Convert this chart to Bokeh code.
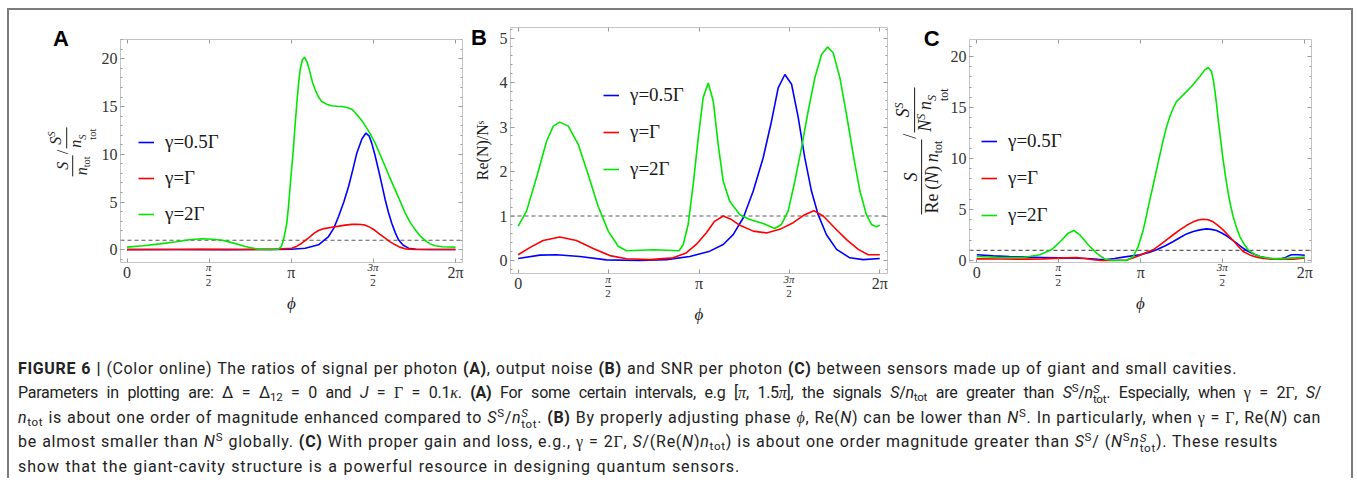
import numpy as np
from bokeh.plotting import figure
from bokeh.models import (Legend, LegendItem, Span, FixedTicker, SingleIntervalTicker,
                          LinearAxis, Div, Range1d)
from bokeh.layouts import row, column
from bokeh.embed import file_html
from bokeh.resources import INLINE

PI = np.pi

# ---------------- data (phi given in multiples of pi) ----------------
x_ticks = [0, 1, 2]
x_tick_text = ["0", "π", "2π"]
x_half_ticks = [0.5, 1.5]
frac_num = ["π", "3π"]
frac_den = ["2", "2"]
series_labels = ["γ=0.5Γ", "γ=Γ", "γ=2Γ"]
series_colors = ["#0000ff", "#ff0000", "#00e600"]
ref_level = 1.0

# Panel A : S/n_tot / (S^S/n^S_tot)
a_blue_x = [0, 0.3, 0.6, 0.9, 1.0, 1.085, 1.166, 1.227, 1.26, 1.288, 1.32, 1.349, 1.375, 1.399,
            1.43, 1.454, 1.475, 1.49, 1.51, 1.531, 1.552, 1.572, 1.592, 1.612, 1.633, 1.653,
            1.68, 1.714, 1.76, 1.85, 2.0]
a_blue_y = [0.03, 0.03, 0.02, 0.03, 0.06, 0.17, 0.52, 1.39, 2.3, 3.49, 5.0, 6.63, 8.4, 10.12,
            11.6, 12.21, 11.9, 11.17, 9.9, 8.38, 6.8, 5.24, 3.9, 2.79, 1.8, 1.05,
            0.5, 0.17, 0.06, 0.03, 0.03]
a_red_x = [0, 0.3, 0.45, 0.7, 0.9, 1.003, 1.035, 1.064, 1.09, 1.115, 1.14, 1.166, 1.2, 1.247,
           1.29, 1.328, 1.37, 1.399, 1.425, 1.45, 1.48, 1.511, 1.54, 1.572, 1.6, 1.633, 1.66,
           1.694, 1.75, 2.0]
a_red_y = [0.02, 0.03, 0.04, 0.03, 0.06, 0.17, 0.38, 0.69, 1.05, 1.39, 1.75, 2.02, 2.22, 2.37,
           2.48, 2.58, 2.66, 2.68, 2.65, 2.58, 2.35, 2.02, 1.62, 1.22, 0.85, 0.52, 0.28,
           0.1, 0.04, 0.03]
a_green_x = [0, 0.1, 0.2, 0.3, 0.38, 0.455, 0.52, 0.58, 0.65, 0.72, 0.8, 0.86, 0.92, 0.94,
             0.955, 0.973, 0.983, 0.993, 1.004, 1.014, 1.024, 1.034, 1.044, 1.054, 1.068,
             1.081, 1.098, 1.115, 1.13, 1.146, 1.166, 1.186, 1.215, 1.247, 1.28, 1.308, 1.34,
             1.369, 1.39, 1.409, 1.435, 1.46, 1.485, 1.511, 1.54, 1.572, 1.6, 1.633, 1.665,
             1.694, 1.725, 1.755, 1.785, 1.816, 1.846, 1.876, 1.92, 2.0]
a_green_y = [0.28, 0.42, 0.62, 0.85, 1.05, 1.15, 1.1, 1.0, 0.7, 0.35, 0.05, 0.0, 0.05, 0.35,
             1.2, 2.8, 4.5, 6.6, 8.8, 10.8, 13.2, 15.35, 17.3, 18.85, 19.9,
             20.17, 19.6, 18.5, 17.5, 16.75, 16.0, 15.53, 15.25, 15.08, 15.03, 15.0, 14.9,
             14.72, 14.35, 13.96, 13.4, 12.74, 12.0, 11.17, 10.0, 8.72, 7.55, 6.28, 5.0,
             3.83, 2.85, 2.09, 1.45, 0.97, 0.62, 0.42, 0.32, 0.28]

# Panel B : Re(N)/N^S
b_blue_x = [0, 0.12, 0.212, 0.341, 0.488, 0.673, 0.82, 0.949, 1.06, 1.134, 1.189, 1.245, 1.3,
            1.355, 1.401, 1.438, 1.475, 1.512, 1.549, 1.585, 1.622, 1.659, 1.705, 1.761,
            1.834, 1.908, 2.0]
b_blue_y = [0.045, 0.12, 0.13, 0.09, 0.015, 0.0, 0.02, 0.09, 0.21, 0.36, 0.58, 0.96, 1.56,
            2.31, 3.13, 3.88, 4.18, 3.96, 3.21, 2.31, 1.56, 1.03, 0.58, 0.25,
            0.06, 0.02, 0.045]
b_red_x = [0, 0.064, 0.138, 0.23, 0.322, 0.415, 0.507, 0.599, 0.728, 0.857, 0.929, 0.985, 1.04,
           1.086, 1.134, 1.18, 1.226, 1.3, 1.373, 1.447, 1.521, 1.585, 1.635, 1.687, 1.751,
           1.816, 1.881, 1.936, 2.0]
b_red_y = [0.13, 0.29, 0.45, 0.53, 0.45, 0.27, 0.11, 0.04, 0.02, 0.06, 0.17, 0.36, 0.62,
           0.88, 1.0, 0.92, 0.79, 0.66, 0.62, 0.7, 0.85, 1.03, 1.12, 1.0, 0.73,
           0.47, 0.25, 0.13, 0.13]
b_green_x = [0, 0.046, 0.101, 0.157, 0.194, 0.23, 0.277, 0.332, 0.387, 0.442, 0.498, 0.553,
             0.599, 0.75, 0.89, 0.913, 0.94, 0.968, 0.996, 1.023, 1.051, 1.079, 1.106, 1.134,
             1.17, 1.226, 1.281, 1.355, 1.419, 1.456, 1.493, 1.53, 1.567, 1.604, 1.641,
             1.678, 1.711, 1.742, 1.779, 1.816, 1.853, 1.89, 1.926, 1.954, 1.982, 2.0]
b_green_y = [0.77, 1.11, 1.86, 2.68, 3.02, 3.11, 3.02, 2.61, 1.93, 1.22, 0.66, 0.32,
             0.22, 0.24, 0.22, 0.36, 0.81, 1.71, 2.76, 3.66, 3.99, 3.58, 2.61, 1.78,
             1.33, 1.03, 0.92, 0.83, 0.72, 0.81, 1.11, 1.78, 2.53, 3.36, 4.11,
             4.63, 4.8, 4.67, 4.11, 3.28, 2.38, 1.56, 1.03, 0.81, 0.76, 0.79]

# Panel C : S/(Re(N) n_tot) / (S^S/(N^S n^S_tot))
c_blue_x = [0, 0.1, 0.2, 0.303, 0.4, 0.508, 0.6, 0.669, 0.74, 0.79, 0.84, 0.893, 0.994, 1.05,
            1.096, 1.15, 1.198, 1.24, 1.279, 1.32, 1.36, 1.401, 1.43, 1.462, 1.49, 1.523,
            1.555, 1.584, 1.615, 1.645, 1.685, 1.726, 1.77, 1.807, 1.85, 1.878, 1.9, 1.919,
            1.96, 2.0]
c_blue_y = [0.56, 0.45, 0.38, 0.33, 0.3, 0.26, 0.22, 0.2, 0.12, 0.1, 0.2, 0.33, 0.56, 0.78,
            1.05, 1.45, 1.86, 2.25, 2.61, 2.85, 3.0, 3.1, 3.05, 2.94, 2.72, 2.42,
            2.05, 1.7, 1.32, 0.98, 0.65, 0.39, 0.24, 0.16, 0.18, 0.26, 0.45, 0.56,
            0.56, 0.52]
c_red_x = [0, 0.15, 0.303, 0.4, 0.508, 0.61, 0.66, 0.71, 0.76, 0.811, 0.913, 0.96, 1.0, 1.03,
           1.075, 1.115, 1.157, 1.2, 1.238, 1.28, 1.32, 1.35, 1.381, 1.41, 1.441, 1.47, 1.502,
           1.533, 1.563, 1.594, 1.624, 1.665, 1.706, 1.75, 1.807, 1.929, 2.0]
c_red_y = [0.16, 0.14, 0.13, 0.16, 0.23, 0.29, 0.2, 0.07, 0.0, 0.0, 0.05, 0.3, 0.55, 0.75,
           1.05, 1.5, 2.03, 2.55, 3.0, 3.45, 3.79, 3.97, 4.05, 4.0, 3.79, 3.45, 3.0,
           2.48, 1.96, 1.4, 0.88, 0.55, 0.33, 0.2, 0.13, 0.13, 0.26]
c_green_x = [0, 0.14, 0.283, 0.384, 0.455, 0.516, 0.557, 0.592, 0.628, 0.679, 0.73, 0.78,
             0.832, 0.913, 0.954, 0.984, 1.015, 1.035, 1.055, 1.076, 1.096, 1.117, 1.137,
             1.157, 1.177, 1.198, 1.218, 1.259, 1.309, 1.36, 1.39, 1.411, 1.431, 1.441,
             1.451, 1.462, 1.472, 1.487, 1.502, 1.518, 1.533, 1.548, 1.563, 1.584, 1.604,
             1.63, 1.655, 1.69, 1.726, 1.78, 1.827, 1.87, 1.909, 2.0]
c_green_y = [0.39, 0.29, 0.29, 0.56, 1.05, 1.96, 2.68, 2.94, 2.52, 1.54, 0.72, 0.13,
             0.0, 0.0, 0.39, 1.37, 3.0, 4.45, 5.95, 7.4, 8.89, 10.4, 11.83,
             13.1, 14.12, 14.95, 15.59, 16.24, 17.06, 18.04, 18.69, 18.92, 18.53, 17.8,
             16.73, 15.3, 13.79, 11.8, 9.87, 8.1, 6.6, 5.35, 4.31, 3.2, 2.35,
             1.6, 1.05, 0.65, 0.39, 0.22, 0.16, 0.18, 0.23, 0.33]

# ---------------- styling ----------------
SERIF = "Liberation Serif"
SANS = "Liberation Sans"
FRAME = "#c4c4c4"
TICKC = "#9a9a9a"
TICK = "#333333"
LABC = "#1a1a1a"
FIG_H = 322
ORIGIN = (9, 10)          # page position of the figures' top-left corner


class Geo:
    """page-pixel <-> data mapping for one panel"""
    def __init__(self, fl, fr, ft, fb, x0px, x2pipx, y0px, ypx_per_unit):
        self.fl, self.fr, self.ft, self.fb = fl, fr, ft, fb
        self.x0px, self.sx = x0px, (x2pipx - x0px) / (2 * PI)
        self.y0px, self.sy = y0px, ypx_per_unit
        self.xr = (self.dx(fl), self.dx(fr))
        self.yr = (self.dy(fb), self.dy(ft))

    def dx(self, px):
        return (px - self.x0px) / self.sx

    def dy(self, py):
        return (self.y0px - py) / self.sy

    def px(self, x):
        return self.x0px + x * self.sx


def make_fig(width, geo, fig_left, yint, minor_step):
    fig_top = ORIGIN[1]
    p = figure(width=width, height=FIG_H, x_range=Range1d(*geo.xr), y_range=Range1d(*geo.yr),
               output_backend="svg", toolbar_location=None, tools="",
               min_border_left=int(round(geo.fl - fig_left)),
               min_border_right=int(round(fig_left + width - geo.fr)),
               min_border_top=int(round(geo.ft - fig_top)),
               min_border_bottom=int(round(fig_top + FIG_H - geo.fb)))
    p.grid.visible = False
    p.outline_line_color = FRAME
    p.background_fill_color = "white"
    p.border_fill_color = "white"
    xa, ya = p.xaxis[0], p.yaxis[0]
    xa.ticker = FixedTicker(ticks=[t * PI for t in x_ticks],
                            minor_ticks=[t * PI for t in x_half_ticks])
    ya.ticker = SingleIntervalTicker(interval=yint, num_minor_ticks=5)
    xa.major_label_overrides = {t * PI: s for t, s in zip(x_ticks, x_tick_text)}
    for ax in (xa, ya):
        ax.axis_line_color = None
        ax.major_tick_in = 4
        ax.major_tick_out = 0
        ax.minor_tick_in = 2
        ax.minor_tick_out = 0
        ax.major_tick_line_color = TICKC
        ax.minor_tick_line_color = TICKC
        ax.major_label_text_font = SERIF
        ax.major_label_text_font_size = "16px"
        ax.major_label_text_color = TICK
    xa.minor_tick_in = 4
    xa.major_label_standoff = 1
    ya.major_label_standoff = 3
    xa.axis_label = "ϕ"
    xa.axis_label_text_font = SERIF
    xa.axis_label_text_font_style = "italic"
    xa.axis_label_text_font_size = "17px"
    xa.axis_label_text_color = LABC
    xa.axis_label_standoff = 10
    # unlabeled frame ticks on top and right (drawn as minor ticks only)
    y0, y1 = geo.yr
    ymaj = [v for v in np.arange(0, y1 + 1e-9, yint)]
    ymin = [v for v in np.arange(np.ceil(y0 / minor_step) * minor_step, y1 + 1e-9, minor_step)
            if abs(v / yint - round(v / yint)) > 1e-6]
    specs = [("above", geo.yr[1], [t * PI for t in x_ticks + x_half_ticks], 4),
             ("right", geo.xr[1], ymaj, 4), ("right", geo.xr[1], ymin, 2)]
    for place, loc, mt, ln in specs:
        ax = LinearAxis(ticker=FixedTicker(ticks=[], minor_ticks=[float(v) for v in mt]),
                        fixed_location=loc, axis_line_color=None, major_tick_in=0,
                        major_tick_out=0, minor_tick_in=ln, minor_tick_out=0,
                        minor_tick_line_color=TICKC)
        p.add_layout(ax, place)
    p.add_layout(Span(location=ref_level, dimension="width", line_color="#5a5a5a",
                      line_dash="4 3", line_width=1.2, level="underlay"))
    return p


def add_series(p, xs, ys, loc, spacing):
    rs = []
    for x, y, c in zip(xs, ys, series_colors):
        rs.append(p.line(np.array(x) * PI, y, line_color=c, line_width=1.6))
    items = [LegendItem(label=lab, renderers=[r]) for lab, r in zip(series_labels, rs)]
    leg = Legend(items=items, location=loc, label_text_font=SERIF,
                 label_text_font_size="19px", label_text_color=LABC, glyph_width=16,
                 glyph_height=20, label_height=20, label_standoff=11, spacing=spacing,
                 padding=0, margin=0, border_line_color=None, background_fill_alpha=0)
    p.add_layout(leg)


# ---------------- panels ----------------
gA = Geo(120, 462, 39, 262, 126.5, 455.0, 249.3, 9.55)
pA = make_fig(457, gA, 9, 5, 1)
pA.yaxis[0].axis_label = None
add_series(pA, [a_blue_x, a_red_x, a_green_x], [a_blue_y, a_red_y, a_green_y], (18, 37), 14)

gB = Geo(510, 887, 27, 273, 517.7, 879.3, 260.0, 44.5)
pB = make_fig(429, gB, 466, 1, 0.2)
yb = pB.yaxis[0]
yb.axis_label = "Re(N)/Nˢ"
yb.axis_label_text_font = SERIF
yb.axis_label_text_font_style = "normal"
yb.axis_label_text_font_size = "16px"
yb.axis_label_text_color = LABC
yb.axis_label_standoff = 6
add_series(pB, [b_blue_x, b_red_x, b_green_x], [b_blue_y, b_red_y, b_green_y], (93, 93), 15)

gC = Geo(969, 1311, 39, 262, 976.3, 1304.3, 260.0, 10.2)
pC = make_fig(456, gC, 895, 5, 1)
pC.yaxis[0].axis_label = None
add_series(pC, [c_blue_x, c_red_x, c_green_x], [c_blue_y, c_red_y, c_green_y], (12, 36), 15)

# ---------------- HTML text pieces (fractions, panel letters) ----------------
CAP_ORIGIN = (9, 10 + FIG_H)   # page position of the caption Div


def place(px, py, html, size, rot=False, font=SERIF, weight="normal", color=LABC):
    tr = "translate(-50%,-50%)" + (" rotate(-90deg)" if rot else "")
    return (f'<div style="position:absolute;left:{px - CAP_ORIGIN[0]:.1f}px;'
            f'top:{py - CAP_ORIGIN[1]:.1f}px;transform:{tr};white-space:nowrap;'
            f"font-family:'{font}';font-size:{size}px;font-weight:{weight};color:{color};"
            f'line-height:1;">{html}</div>')


def hfrac(num, den, color=LABC, pad=1):
    return ('<span style="display:inline-flex;flex-direction:column;align-items:center;'
            'vertical-align:middle;">'
            f'<span style="padding:0 {pad}px 1px;line-height:1.05;">{num}</span>'
            f'<span style="border-top:1px solid {color};padding:1px {pad}px 0;'
            f'line-height:1.05;">{den}</span></span>')


def sub(s):
    return f'<span style="font-size:0.66em;vertical-align:-0.3em;line-height:0;">{s}</span>'


def sup(s):
    return f'<span style="font-size:0.66em;vertical-align:0.55em;line-height:0;">{s}</span>'


def supsub(a, b):
    return ('<span style="display:inline-flex;flex-direction:column;font-size:0.66em;'
            f'line-height:0.95;vertical-align:-0.45em;"><i>{a}</i><span>{b}</span></span>')


def slash():
    return '<span style="padding:0 1px;position:relative;top:-0.55em;">/</span>'


overlay = []
overlay.append(place(61, 38.5, "A", 22, font=SANS, weight="bold", color="#000"))
overlay.append(place(479, 37.5, "B", 22, font=SANS, weight="bold", color="#000"))
overlay.append(place(931.7, 38.5, "C", 22, font=SANS, weight="bold", color="#000"))
labA = (hfrac("<i>S</i>", "<i>n</i>" + sub("tot")) + slash()
        + hfrac("<i>S</i>" + sup("<i>S</i>"), "<i>n</i>" + supsub("S", "tot")))
overlay.append(place(73, 151.5, labA, 16, rot=True))
labC = (hfrac("<i>S</i>", "Re&#8201;(<i>N</i>)&#8201;<i>n</i>" + sub("tot")) + slash()
        + hfrac("<i>S</i>" + sup("<i>S</i>"), "<i>N</i>" + sup("<i>S</i>") + "&#8201;<i>n</i>"
                + supsub("S", "tot")))
overlay.append(place(921.5, 151, labC, 18, rot=True))
for geo, yc in ((gA, 275.0), (gB, 286.5), (gC, 275.0)):
    for t, num, den in zip(x_half_ticks, frac_num, frac_den):
        overlay.append(place(geo.px(t * PI), yc, hfrac(f"<i>{num}</i>", den, TICK, 0), 11,
                             color=TICK))
overlay_html = ('<div style="position:relative;width:0;height:0;">' + "".join(overlay)
                + "</div>")

# ---------------- caption ----------------
SUP = 'style="font-size:0.72em;line-height:0;vertical-align:0.55em;"'
SUB = 'style="font-size:0.72em;line-height:0;vertical-align:-0.3em;"'


def g(s):
    return f"<span style=\"font-family:'Liberation Serif';\">{s}</span>"


def it(s):
    return f"<i>{s}</i>"


def stk(a, b):
    return ('<span style="display:inline-block;vertical-align:-0.42em;line-height:0.9;'
            f'font-size:0.72em;"><span style="display:block">{a}</span>'
            f'<span style="display:block">{b}</span></span>')


SS = f'{it("S")}<span {SUP}>S</span>'
NTOT = f'{it("n")}<span {SUB}>tot</span>'
NSTOT = f'{it("n")}{stk(it("S"), "tot")}'
NS = f'{it("N")}<span {SUP}>S</span>'

caption_lines = [
    '<b>FIGURE 6 |</b> (Color online) The ratios of signal per photon <b>(A)</b>, output noise '
    '<b>(B)</b> and SNR per photon <b>(C)</b> between sensors made up of giant and small cavities.',
    f'Parameters in plotting are: Δ = Δ<span {SUB}>12</span> = 0 and {it("J")} = {g("Γ")} = 0.1{g(it("κ"))}. '
    f'<b>(A)</b> For some certain intervals, e.g [{g(it("π"))}, 1.5{g(it("π"))}], the signals '
    f'{it("S")}/{NTOT} are greater than {SS}/{NSTOT}. Especially, when {g("γ")} = 2{g("Γ")}, {it("S")}/',
    f'{NTOT} is about one order of magnitude enhanced compared to {SS}/{NSTOT}. <b>(B)</b> By '
    f'properly adjusting phase {g(it("ϕ"))}, Re({it("N")}) can be lower than {NS}. In particularly, '
    f'when {g("γ")} = {g("Γ")}, Re({it("N")}) can',
    f'be almost smaller than {NS} globally. <b>(C)</b> With proper gain and loss, e.g., '
    f'{g("γ")} = 2{g("Γ")}, {it("S")}/(Re({it("N")}){NTOT}) is about one order magnitude greater '
    f'than {SS}/ ({NS}{NSTOT}). These results',
    'show that the giant-cavity structure is a powerful resource in designing quantum sensors.',
]
line_width = [1219, 1303, 1303, 1260, 722]
line_spacing = [0.65, -0.25, 0.65, 0.75, 0.9]
line_html = "".join(
    f'<div style="width:{w}px;height:24.5px;line-height:24.5px;white-space:nowrap;'
    f'text-align:justify;text-align-last:justify;letter-spacing:{ls}px;">{ln}</div>'
    for ln, w, ls in zip(caption_lines, line_width, line_spacing))
caption = Div(
    text=(overlay_html
          + '<div style="font-family:Roboto;font-size:16px;color:#222;padding-left:9px;'
          f'padding-top:24.75px;">{line_html}</div>'),
    width=1342, height=146, margin=0)

layout = column(row(column(pA), column(pB), column(pC)), caption, margin=(8, 0, 0, 7),
                styles={"border-top": "2px solid #7c7c7c", "border-left": "2px solid #7c7c7c",
                        "border-right": "2px solid #7c7c7c"})

open("out.html", "w").write(file_html(layout, INLINE))
